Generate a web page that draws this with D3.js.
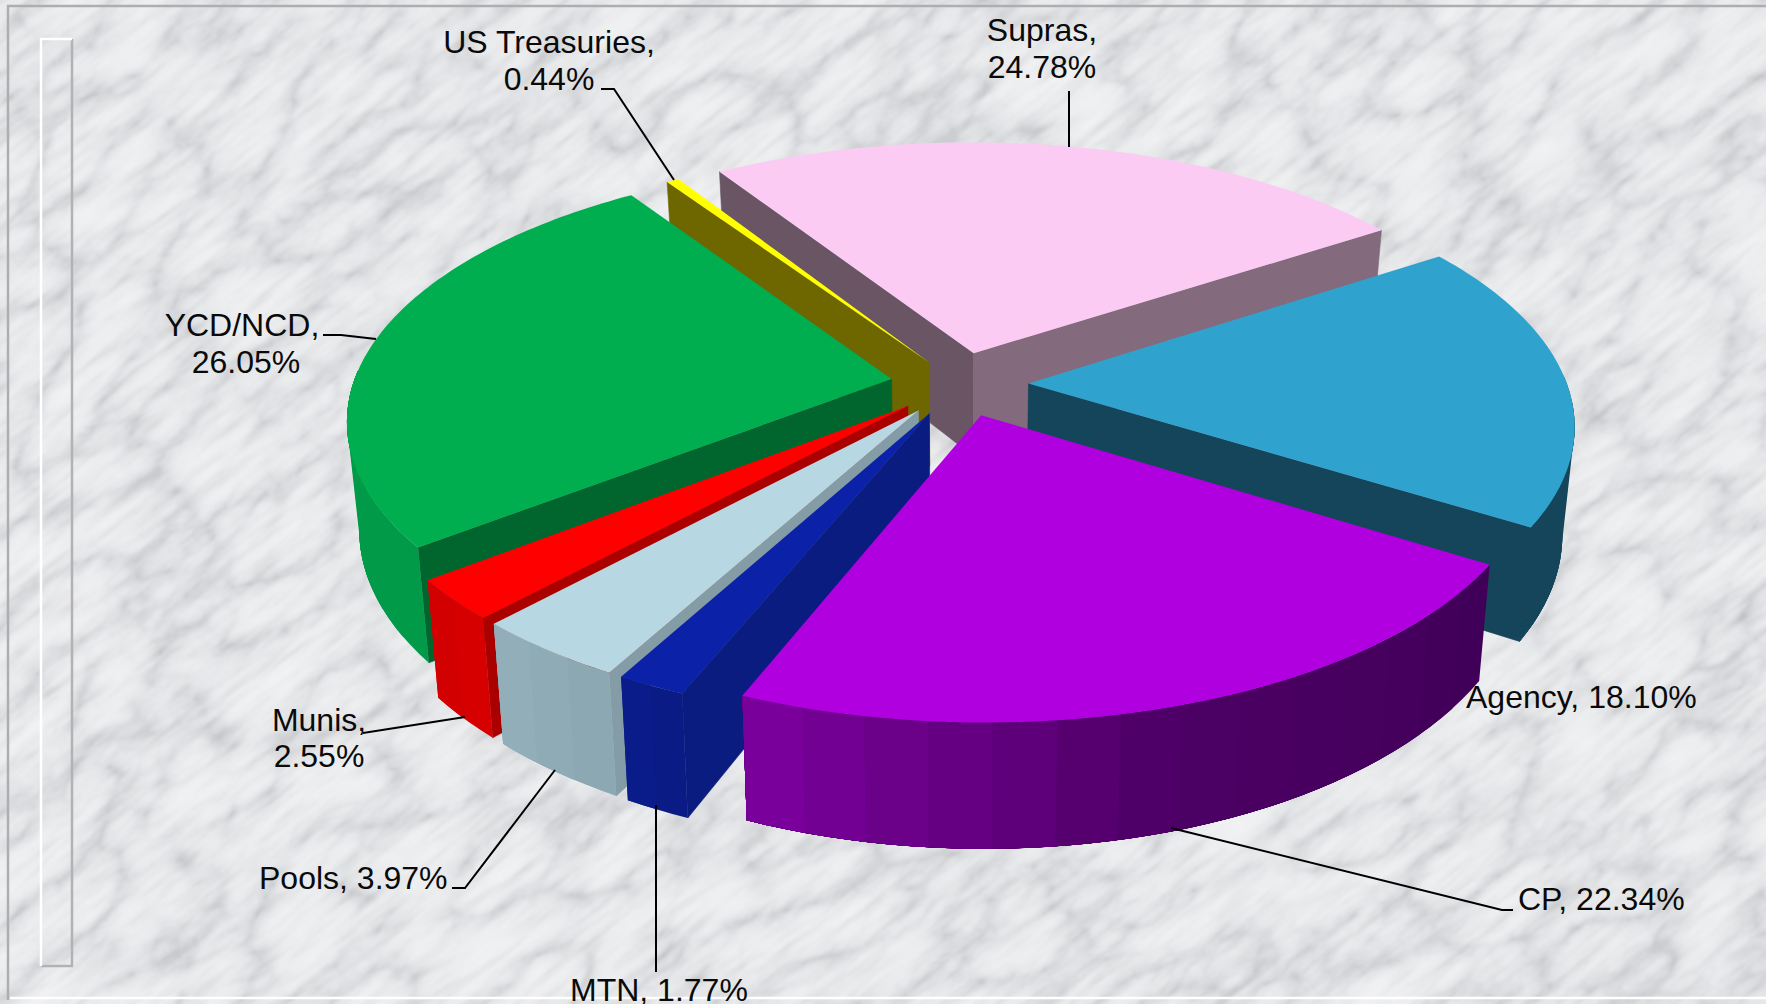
<!DOCTYPE html>
<html>
<head>
<meta charset="utf-8">
<script src="https://cdn.jsdelivr.net/npm/d3@7/dist/d3.min.js"></script>
<style>
html,body{margin:0;padding:0;background:#e8e9ec;overflow:hidden}
svg{display:block}
text{font-family:"Liberation Sans",Arial,sans-serif;font-size:32px;fill:#0a0a0a}
</style>
</head>
<body>
<svg id="chart" width="1766" height="1004"></svg>
<script>
// --- data ---
const categories = ["Supras","Agency","CP","MTN","Pools","Munis","YCD/NCD","US Treasuries"];
const shares = [24.78,18.10,22.34,1.77,3.97,2.55,26.05,0.44];
const explosions = [69,69,69,69,69,69,69,56];
// --- slice colours ---
const topColors = ["#fbcbf4","#2fa3ce","#b000e0","#0b22a8","#b7d8e2","#ff0000","#00ae50","#ffff00"];
const startFaceColors = ["#6a5565","#15455a","#3f0058","#0a1c80","#849ca6","#aa0000","#00662e","#6e6700"];
const endFaceColors = ["#836a7d","#15455a","#7c009e","#0a1c80","#849ca6","#aa0000","#00662e","#6e6700"];
const wallFrom = ["#836a7d","#15455a","#3f0058","#0a1c84","#8ba6b0","#d80000","#009a48","#6e6700"];
const wallMid  = ["#836a7d","#15455a","#4c0064","#0a1a88","#8fabb5","#d40000","#009a48","#6e6700"];
const wallTo   = ["#836a7d","#15455a","#7c009e","#0a1c8c","#93afb9","#d00000","#009a48","#6e6700"];
// back-to-front painting order (indexes into categories)
const paintOrder = [0,1,7,6,5,4,3,2];

// --- label layout ---
const labelLines = [
  [["Supras,",1042,41,"middle"],["24.78%",1042,78,"middle"]],
  [["Agency, 18.10%",1466,708,"start"]],
  [["CP, 22.34%",1518,910,"start"]],
  [["MTN, 1.77%",570,1001,"start"]],
  [["Pools, 3.97%",259,889,"start"]],
  [["Munis,",319,731,"middle"],["2.55%",319,767,"middle"]],
  [["YCD/NCD,",242,336,"middle"],["26.05%",246,373,"middle"]],
  [["US Treasuries,",549,53,"middle"],["0.44%",549,90,"middle"]]
];
const leaders = [
  [[1069,91],[1069,147]],
  [],
  [[1513,910],[1502,910],[1171,828]],
  [[656,805],[656,972]],
  [[452,888],[465,888],[555,770]],
  [[363,733],[465,717]],
  [[323,335],[341,335],[376,339]],
  [[601,89],[614,89],[674,180]]
];

// --- projection parameters ---
const W = 1766, H = 1004;
const cx = 959.5, cy = 384;
const radius = 538.5, tilt = 0.466, persp = 0.15, depth = 105, converge = 0.02;
const startDeg = -32.5;
const rad = d3.scaleLinear().domain([0,360]).range([0,2*Math.PI]);

const svg = d3.select("#chart");
const defs = svg.append("defs");

// --- marble background ---
const f = defs.append("filter").attr("id","marble").attr("filterUnits","userSpaceOnUse")
  .attr("x",-800).attr("y",-800).attr("width",3400).attr("height",2800)
  .attr("color-interpolation-filters","sRGB");
f.append("feTurbulence").attr("type","turbulence").attr("baseFrequency","0.009 0.017")
  .attr("numOctaves",6).attr("seed",11).attr("result","a");
f.append("feColorMatrix").attr("in","a").attr("type","matrix")
  .attr("values","1 0 0 0 0  1 0 0 0 0  1 0 0 0 0  0 0 0 0 1").attr("result","a1");
const ct1 = f.append("feComponentTransfer").attr("in","a1").attr("result","veins");
["feFuncR","feFuncG","feFuncB"].forEach((n,i)=>ct1.append(n).attr("type","table")
  .attr("tableValues",[".79 .865 .91 .93 .94 .945 .95 .955",".80 .87 .915 .935 .943 .948 .952 .957",".815 .88 .925 .942 .95 .955 .96 .965"][i]));
f.append("feTurbulence").attr("type","fractalNoise").attr("baseFrequency","0.015 0.11")
  .attr("numOctaves",4).attr("seed",4).attr("result","b");
f.append("feColorMatrix").attr("in","b").attr("type","matrix")
  .attr("values","1 0 0 0 0  1 0 0 0 0  1 0 0 0 0  0 0 0 0 1").attr("result","b1");
const ct2 = f.append("feComponentTransfer").attr("in","b1").attr("result","streaks");
["feFuncR","feFuncG","feFuncB"].forEach(n=>ct2.append(n).attr("type","table")
  .attr("tableValues","1 1 1 .995 .98 .955 .92 .9"));
f.append("feBlend").attr("in","veins").attr("in2","streaks").attr("mode","multiply").attr("result","m");
f.append("feGaussianBlur").attr("in","m").attr("stdDeviation",1.2);

svg.append("rect").attr("x",-800).attr("y",-800).attr("width",3400).attr("height",2800)
  .attr("fill","#eee").attr("filter","url(#marble)")
  .attr("transform",`rotate(-38 ${W/2} ${H/2})`);

// --- frame and empty legend box ---
const frame = svg.append("g").attr("fill","none");
frame.append("path").attr("d",d3.line()([[8,1000],[8,6],[1766,6]])).attr("stroke","#aeaeb0").attr("stroke-width",2.5);
frame.append("path").attr("d",d3.line()([[10,998],[1766,998]])).attr("stroke","#ffffff").attr("stroke-width",2.5);
frame.append("path").attr("d",d3.line()([[72,39],[72,966],[41,966]])).attr("stroke","#b2b2b4").attr("stroke-width",2.5);
frame.append("path").attr("d",d3.line()([[41,966],[41,39],[72,39]])).attr("stroke","#ffffff").attr("stroke-width",2.5);

// --- pie geometry ---
const arcs = d3.pie().sort(null).startAngle(rad(startDeg)).endAngle(rad(startDeg+360))(shares);

function project(theta, r, mid, e, bottom){
  const X = e*Math.sin(mid) + r*Math.sin(theta);
  const Y = -(e*Math.cos(mid) + r*Math.cos(theta));
  const s = 1/(1 - persp*Y/radius);
  if(!bottom) return [cx + X*s, cy + tilt*Y*s];
  return [cx + X*s*(1-converge), cy + tilt*Y*s + depth*s];
}
const poly = d3.line();
const pieG = svg.append("g");

paintOrder.forEach(i=>{
  const a = arcs[i], a0=a.startAngle, a1=a.endAngle, mid=(a0+a1)/2, e=explosions[i];
  const g = pieG.append("g").attr("class","slice").attr("data-name",categories[i]);
  const facing = n => -Math.cos(n) > 0;
  const face = (ang,col)=> g.append("path").attr("fill",col).attr("stroke",col).attr("stroke-width",.6)
    .attr("d",poly([project(0,0,mid,e,false),project(ang,radius,mid,e,false),project(ang,radius,mid,e,true),project(0,0,mid,e,true)])+"Z");
  if(facing(a0-Math.PI/2)) face(a0,startFaceColors[i]);
  if(facing(a1+Math.PI/2)) face(a1,endFaceColors[i]);
  // outer wall in shaded bands, only where it turns toward the viewer
  const norm = t => ((t%(2*Math.PI))+2*Math.PI)%(2*Math.PI);
  const visLo = rad(88), visHi = rad(272);
  const lo = norm(a0)<visLo&&norm(a1)>visLo ? visLo : a0;
  const hi = norm(a1)>visHi&&norm(a0)<visHi ? visHi : a1;
  if(norm(lo)>=visLo&&norm(hi)<=visHi&&norm(hi)>norm(lo)){
    const steps = Math.max(2,Math.ceil((hi-lo)/rad(6)));
    const shade = d3.scaleLinear().domain([0,.5,1]).range([wallFrom[i],wallMid[i],wallTo[i]]).interpolate(d3.interpolateRgb);
    const cols = d3.range(steps).map(k=>shade((lo+(hi-lo)*(k+.5)/steps-a0)/(a1-a0)));
    // paint each band from its start to the far end of the wall, so no seams show
    cols.forEach((col,k)=>{
      const t0=lo+(hi-lo)*k/steps, m=Math.max(2,Math.ceil((hi-t0)/rad(2)));
      const ts=d3.range(m+1).map(j=>t0+(hi-t0)*j/m);
      const up=ts.map(t=>project(t,radius,mid,e,false));
      const dn=ts.slice().reverse().map(t=>project(t,radius,mid,e,true));
      g.append("path").attr("fill",col).attr("d",poly(up.concat(dn))+"Z");
    });
  }
  // top surface
  const pts=[project(0,0,mid,e,false)];
  const n=Math.ceil((a1-a0)/rad(1));
  d3.range(n+1).forEach(k=>pts.push(project(a0+(a1-a0)*k/n,radius,mid,e,false)));
  g.append("path").attr("fill",topColors[i]).attr("d",poly(pts)+"Z");
});

// --- leaders and labels ---
const lab = svg.append("g");
leaders.filter(l=>l.length).forEach(l=>lab.append("path").attr("fill","none").attr("stroke","#000").attr("stroke-width",2).attr("d",poly(l)));
labelLines.forEach(lines=>lines.forEach(([t,x,y,anchor])=>lab.append("text").attr("x",x).attr("y",y).attr("text-anchor",anchor).text(t)));
</script>
</body>
</html>
